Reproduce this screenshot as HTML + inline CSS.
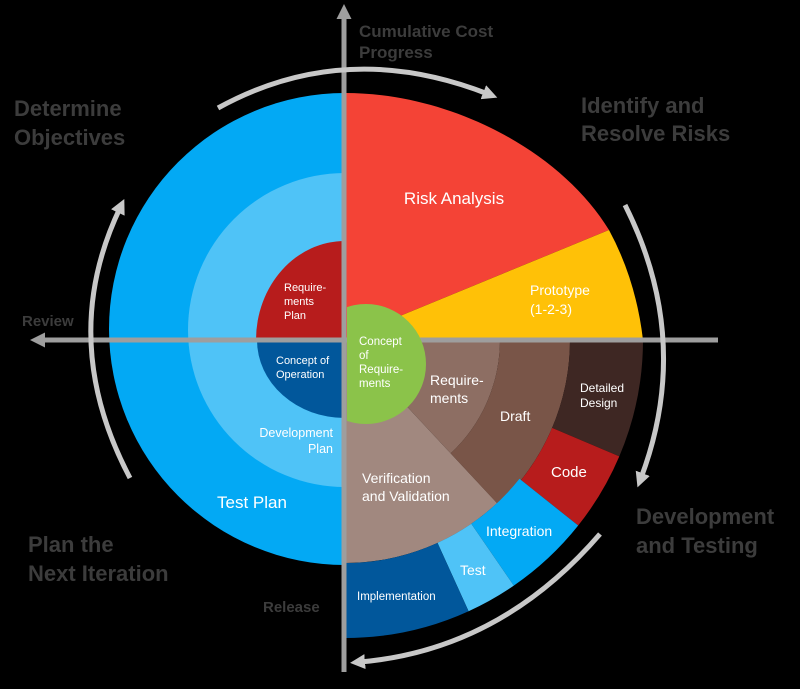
<!DOCTYPE html>
<html><head><meta charset="utf-8"><style>
html,body{margin:0;padding:0;background:#000;}
svg{display:block;}
text{font-family:"Liberation Sans",sans-serif;}
.w{fill:#fff;}
.d{fill:#3c3c3c;font-weight:bold;}
</style></head><body>
<svg id="s" width="800" height="689" viewBox="0 0 800 689" xmlns="http://www.w3.org/2000/svg">
<defs>
<marker id="ah" markerWidth="3" markerHeight="3" refX="1" refY="1.5" orient="auto" markerUnits="strokeWidth"><path d="M0,0 L3,1.5 L0,3 Z" fill="#c8c8c8"/></marker>
<marker id="ag" markerWidth="3" markerHeight="3" refX="1" refY="1.5" orient="auto" markerUnits="strokeWidth"><path d="M0,0 L3,1.5 L0,3 Z" fill="#9e9e9e"/></marker>
<clipPath id="cr"><rect x="347" y="0" width="453" height="689"/></clipPath>
</defs>
<path d="M345,93 A236,236 0 0 0 345,565 Z" fill="#03a9f4"/>
<path d="M345,173 A157,157 0 0 0 345,487 Z" fill="#4fc3f7"/>
<path d="M345,241 A89,99 0 0 0 256,340 L345,340 Z" fill="#b71c1c"/>
<path d="M345,340 L257,340 A88,78 0 0 0 345,418 Z" fill="#01579b"/>
<path d="M345,93 C450,93 560,150 609,230 L400,316 L400,340 L345,340 Z" fill="#f44336"/>
<path d="M400,316 L609,230 Q636,280 643,340 L400,340 Z" fill="#ffc107"/>
<g id="sec"></g>
<line x1="718" y1="340" x2="40" y2="340" stroke="#9e9e9e" stroke-width="5" marker-end="url(#ag)"/>
<line x1="344" y1="672" x2="344" y2="14" stroke="#9e9e9e" stroke-width="5" marker-end="url(#ag)"/>
<circle cx="366" cy="364" r="60" fill="#8bc34a" clip-path="url(#cr)"/>
<g fill="none" stroke="#c8c8c8" stroke-width="5">
<path d="M218,108 Q345,38 488,94" marker-end="url(#ah)"/>
<path d="M625,205 Q693,340 641,478" marker-end="url(#ah)"/>
<path d="M600,534 Q500,650 360,662" marker-end="url(#ah)"/>
<path d="M130,478 Q57,340 120,208" marker-end="url(#ah)"/>
</g>
<text class="w" x="454" y="204" font-size="17" text-anchor="middle">Risk Analysis</text>
<text class="w" x="530" y="295" font-size="14">Prototype</text>
<text class="w" x="530" y="314" font-size="14">(1-2-3)</text>
<g font-size="11.5" class="w"><text x="359" y="345">Concept</text><text x="359" y="359">of</text><text x="359" y="373">Require-</text><text x="359" y="387">ments</text></g>
<g font-size="11" class="w"><text x="284" y="291">Require-</text><text x="284" y="305">ments</text><text x="284" y="319">Plan</text></g>
<g font-size="11" class="w"><text x="276" y="364">Concept of</text><text x="276" y="378">Operation</text></g>
<g font-size="12.5" class="w" text-anchor="end"><text x="333" y="437">Development</text><text x="333" y="453">Plan</text></g>
<text class="w" x="252" y="508" font-size="17" text-anchor="middle">Test Plan</text>
<g font-size="14" class="w"><text x="430" y="385">Require-</text><text x="430" y="403">ments</text></g>
<text class="w" x="500" y="421" font-size="14">Draft</text>
<g font-size="12" class="w"><text x="580" y="392">Detailed</text><text x="580" y="407">Design</text></g>
<text class="w" x="551" y="477" font-size="15">Code</text>
<g font-size="14" class="w"><text x="362" y="483">Verification</text><text x="362" y="501">and Validation</text></g>
<text class="w" x="486" y="536" font-size="14">Integration</text>
<text class="w" x="460" y="575" font-size="14">Test</text>
<text class="w" x="357" y="600" font-size="11.5">Implementation</text>
<g class="d" font-size="17"><text x="359" y="37">Cumulative Cost</text><text x="359" y="58">Progress</text></g>
<g class="d" font-size="22"><text x="14" y="116">Determine</text><text x="14" y="145">Objectives</text>
<text x="581" y="113">Identify and</text><text x="581" y="141">Resolve Risks</text>
<text x="636" y="524">Development</text><text x="636" y="553">and Testing</text>
<text x="28" y="552">Plan the</text><text x="28" y="581">Next Iteration</text></g>
<g class="d" font-size="15"><text x="22" y="326">Review</text><text x="263" y="612">Release</text></g>
</svg>
<script>
(function(){
var cx=345,cy=340,g=document.getElementById('sec'),h='';
function P(r,a){a=a*Math.PI/180;return (cx+r*Math.cos(a)).toFixed(1)+','+(cy+r*Math.sin(a)).toFixed(1);}
function S(r1,r2,a1,a2,c){var d='M'+P(r2,a1)+' A'+r2+','+r2+' 0 0 1 '+P(r2,a2);
 if(r1>0){d+=' L'+P(r1,a2)+' A'+r1+','+r1+' 0 0 0 '+P(r1,a1)+' Z';}else{d+=' L'+cx+','+cy+' Z';}
 h+='<path d="'+d+'" fill="'+c+'"/>';}
S(0,223,47,90,'#a1887f');
S(0,155,0,47,'#8d6e63');
S(155,225,0,47,'#795548');
S(225,298,0,23,'#3e2723');
S(225,298,23,38.5,'#b71c1c');
S(223,298,38.5,55.5,'#03a9f4');
S(223,298,55.5,65.5,'#4fc3f7');
S(223,298,65.5,90,'#01579b');
g.innerHTML=h;
})();
</script>
</body></html>
